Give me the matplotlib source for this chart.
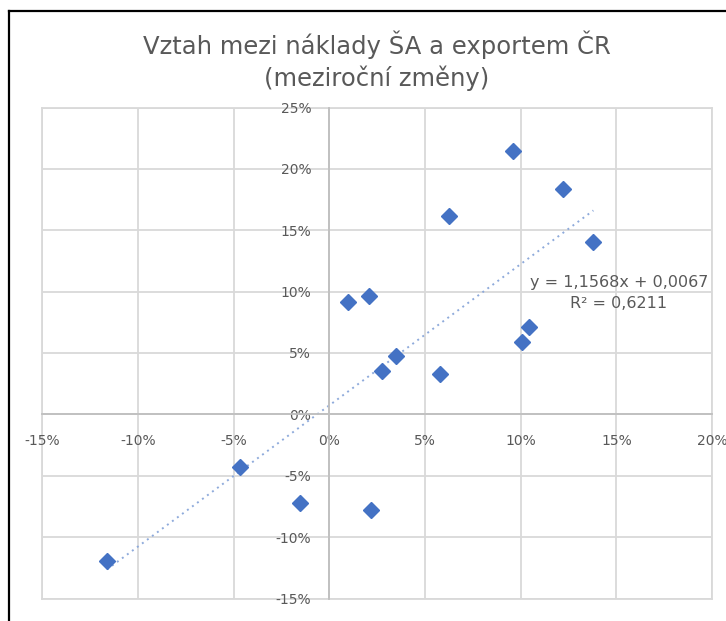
import numpy as np
import matplotlib
matplotlib.use("Agg")
import matplotlib.pyplot as plt
from matplotlib.lines import Line2D
from matplotlib.ticker import FuncFormatter

plt.rcParams['font.family'] = ['DejaVu Sans']

# Data (year-on-year changes, in %)
naklady_sa = [-11.62, -4.67, -1.53, 2.18, 0.99, 2.08, 2.77, 3.49, 5.79, 6.25, 9.59, 12.23, 13.80, 10.44, 10.09]
export_cr = [-11.93, -4.28, -7.21, -7.78, 9.14, 9.67, 3.52, 4.76, 3.30, 16.19, 21.46, 18.36, 14.02, 7.13, 5.88]

title = "Vztah mezi náklady ŠA a exportem ČR\n(meziroční změny)"
eq_text = "y = 1,1568x + 0,0067\nR² = 0,6211"
x_ticks = [-15, -10, -5, 0, 5, 10, 15, 20]
y_ticks = [-15, -10, -5, 0, 5, 10, 15, 20, 25]

grey_text = '#595959'
grid_col = '#d9d9d9'
axis_col = '#bfbfbf'
marker_col = '#4472C4'
trend_col = '#8eaadb'

W, H = 726, 621
fig = plt.figure(figsize=(W / 100, H / 100), dpi=100)
fig.patch.set_facecolor('white')

ax = fig.add_axes([42.3 / W, 1 - 598.5 / H, (712 - 42.3) / W, (598.5 - 107.5) / H])
ax.set_xlim(-15, 20)
ax.set_ylim(-15, 25)
ax.set_xticks(x_ticks)
ax.set_yticks(y_ticks)
ax.grid(True, color=grid_col, linewidth=1.3)
ax.set_axisbelow(True)

for s in ['top', 'right']:
    ax.spines[s].set_visible(False)
ax.spines['left'].set_position(('data', 0))
ax.spines['bottom'].set_position(('data', 0))
ax.spines['left'].set_color(axis_col)
ax.spines['bottom'].set_color(axis_col)
ax.spines['left'].set_linewidth(1.3)
ax.spines['bottom'].set_linewidth(1.3)
# frame lines at edges (like gridlines)
for yv in (-15, 25):
    ax.axhline(yv, color=grid_col, linewidth=1.3, clip_on=False, zorder=0)
for xv in (-15, 20):
    ax.axvline(xv, color=grid_col, linewidth=1.3, clip_on=False, zorder=0)

fmt = FuncFormatter(lambda v, p: f"{int(round(v))}%")
ax.xaxis.set_major_formatter(fmt)
ax.yaxis.set_major_formatter(fmt)
ax.tick_params(axis='both', length=0, labelsize=10, labelcolor=grey_text)
ax.tick_params(axis='x', pad=14)
ax.tick_params(axis='y', pad=13)

# trendline (least squares)
xs = np.array(naklady_sa)
ys = np.array(export_cr)
k, q = np.polyfit(xs, ys, 1)
xl = np.array([xs.min(), xs.max()])
ax.plot(xl, k * xl + q, linestyle=(0, (1, 2.2)), color=trend_col, linewidth=1.4, zorder=2)

ax.plot(naklady_sa, export_cr, linestyle='none', marker='D', markersize=8,
        color=marker_col, zorder=3)

ax.text(619 / W, 1 - 292.5 / H, eq_text, transform=fig.transFigure, ha='center', va='center',
        fontsize=11.5, color=grey_text, multialignment='center', linespacing=1.5)

fig.text(377 / W, 1 - 61 / H, title, ha='center', va='center', fontsize=17.5,
         color=grey_text, linespacing=1.3)

# black border (top and left)
fig.add_artist(Line2D([8.5 / W, 1.0], [1 - 11 / H, 1 - 11 / H], transform=fig.transFigure,
                      color='black', linewidth=1.6))
fig.add_artist(Line2D([8.5 / W, 8.5 / W], [0, 1 - 11 / H], transform=fig.transFigure,
                      color='black', linewidth=1.6))

fig.savefig('out.png', dpi=100)
